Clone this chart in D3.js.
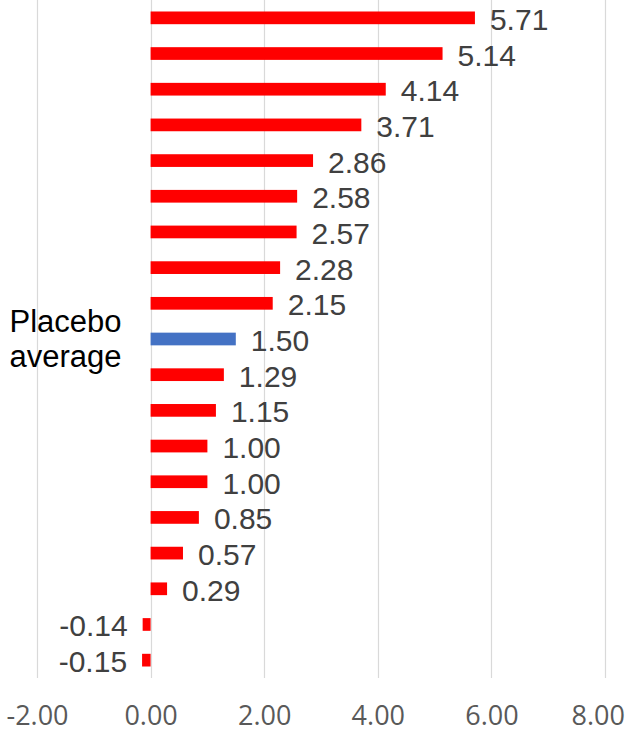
<!DOCTYPE html>
<html>
<head>
<meta charset="utf-8">
<script src="https://cdn.jsdelivr.net/npm/d3@7"></script>
<style>
  body { margin: 0; background: #fff; }
</style>
</head>
<body>
<div id="chart"></div>
<script>
// values, top to bottom
var categories = ['', '', '', '', '', '', '', '', '', 'Placebo average', '', '', '', '', '', '', '', '', '']
var values = [5.71, 5.14, 4.14, 3.71, 2.86, 2.58, 2.57, 2.28, 2.15, 1.50, 1.29, 1.15, 1.00, 1.00, 0.85, 0.57, 0.29, -0.14, -0.15]
var highlight = [false, false, false, false, false, false, false, false, false, true, false, false, false, false, false, false, false, false, false]
var xTicks = [-2, 0, 2, 4, 6, 8]

var width = 629
var height = 732

var svg = d3.select('#chart')
  .append('svg')
  .attr('width', width)
  .attr('height', height)

var rows = categories.map(function(c, i) {
  return { key: i, label: c, value: values[i], hl: highlight[i] }
})

var xPositionScale = d3.scaleLinear().domain([-2, 8]).range([37, 605])

var yPositionScale = d3.scaleBand()
  .domain(rows.map(d => d.key))
  .range([0, 678])
  .paddingInner(0.644)
  .paddingOuter(0.322)

// gridlines
svg.append('g')
  .selectAll('line')
  .data(xTicks)
  .enter()
  .append('line')
  .attr('x1', d => Math.round(xPositionScale(d)) + 0.5)
  .attr('x2', d => Math.round(xPositionScale(d)) + 0.5)
  .attr('y1', 0)
  .attr('y2', 678)
  .attr('stroke', '#d9d9d9')
  .attr('stroke-width', 1.2)

// bars
svg.append('g')
  .selectAll('rect')
  .data(rows)
  .enter()
  .append('rect')
  .attr('x', d => xPositionScale(Math.min(0, d.value)))
  .attr('width', d => Math.abs(xPositionScale(d.value) - xPositionScale(0)))
  .attr('y', d => yPositionScale(d.key))
  .attr('height', yPositionScale.bandwidth())
  .attr('fill', d => d.hl ? '#4472c4' : '#ff0000')

// value labels
svg.append('g')
  .selectAll('text')
  .data(rows)
  .enter()
  .append('text')
  .attr('x', d => d.value >= 0 ? xPositionScale(d.value) + 15 : xPositionScale(d.value) - 15)
  .attr('y', d => yPositionScale(d.key) + yPositionScale.bandwidth() / 2 + 12)
  .attr('text-anchor', d => d.value >= 0 ? 'start' : 'end')
  .attr('font-family', 'Liberation Sans, Arial, sans-serif')
  .attr('font-size', 30)
  .attr('fill', '#404040')
  .text(d => d.value.toFixed(2))

// category label (only placebo has one)
var catLabels = svg.append('g')
  .selectAll('text')
  .data(rows.filter(d => d.label !== ''))
  .enter()
  .append('text')
  .attr('x', 65.5)
  .attr('y', d => yPositionScale(d.key) + yPositionScale.bandwidth() / 2)
  .attr('text-anchor', 'middle')
  .attr('font-family', 'Liberation Sans, Arial, sans-serif')
  .attr('font-size', 31)
  .attr('fill', '#000')

catLabels.each(function(d) {
  var t = d3.select(this)
  var words = d.label.split(' ')
  words.forEach(function(w, i) {
    t.append('tspan')
      .attr('x', 65.5)
      .attr('dy', i === 0 ? -7 : 35)
      .text(w)
  })
})

// x axis labels
var xAxis = d3.axisBottom(xPositionScale)
  .tickValues(xTicks)
  .tickSize(0)
  .tickPadding(0)
  .tickFormat(d => d.toFixed(2))

var xg = svg.append('g')
  .attr('class', 'axis x-axis')
  .attr('transform', 'translate(0,725)')
  .call(xAxis)
  .call(g => g.select('.domain').remove())

xg.selectAll('text')
  .attr('dy', 0)
  .attr('font-family', 'Open Sans, sans-serif')
  .attr('font-size', 27)
  .attr('fill', '#595959')

// keep the end labels inside the picture, like Excel does
xg.selectAll('.tick').each(function() {
  var tick = d3.select(this)
  var box = this.getBBox()
  var tx = +tick.attr('transform').match(/translate\(([-\d.]+)/)[1]
  var left = tx + box.x
  var right = left + box.width
  var shift = 0
  if (left < 1) shift = 1 - left
  if (right > 625) shift = 625 - right
  tick.select('text').attr('x', shift)
})
</script>
</body>
</html>
